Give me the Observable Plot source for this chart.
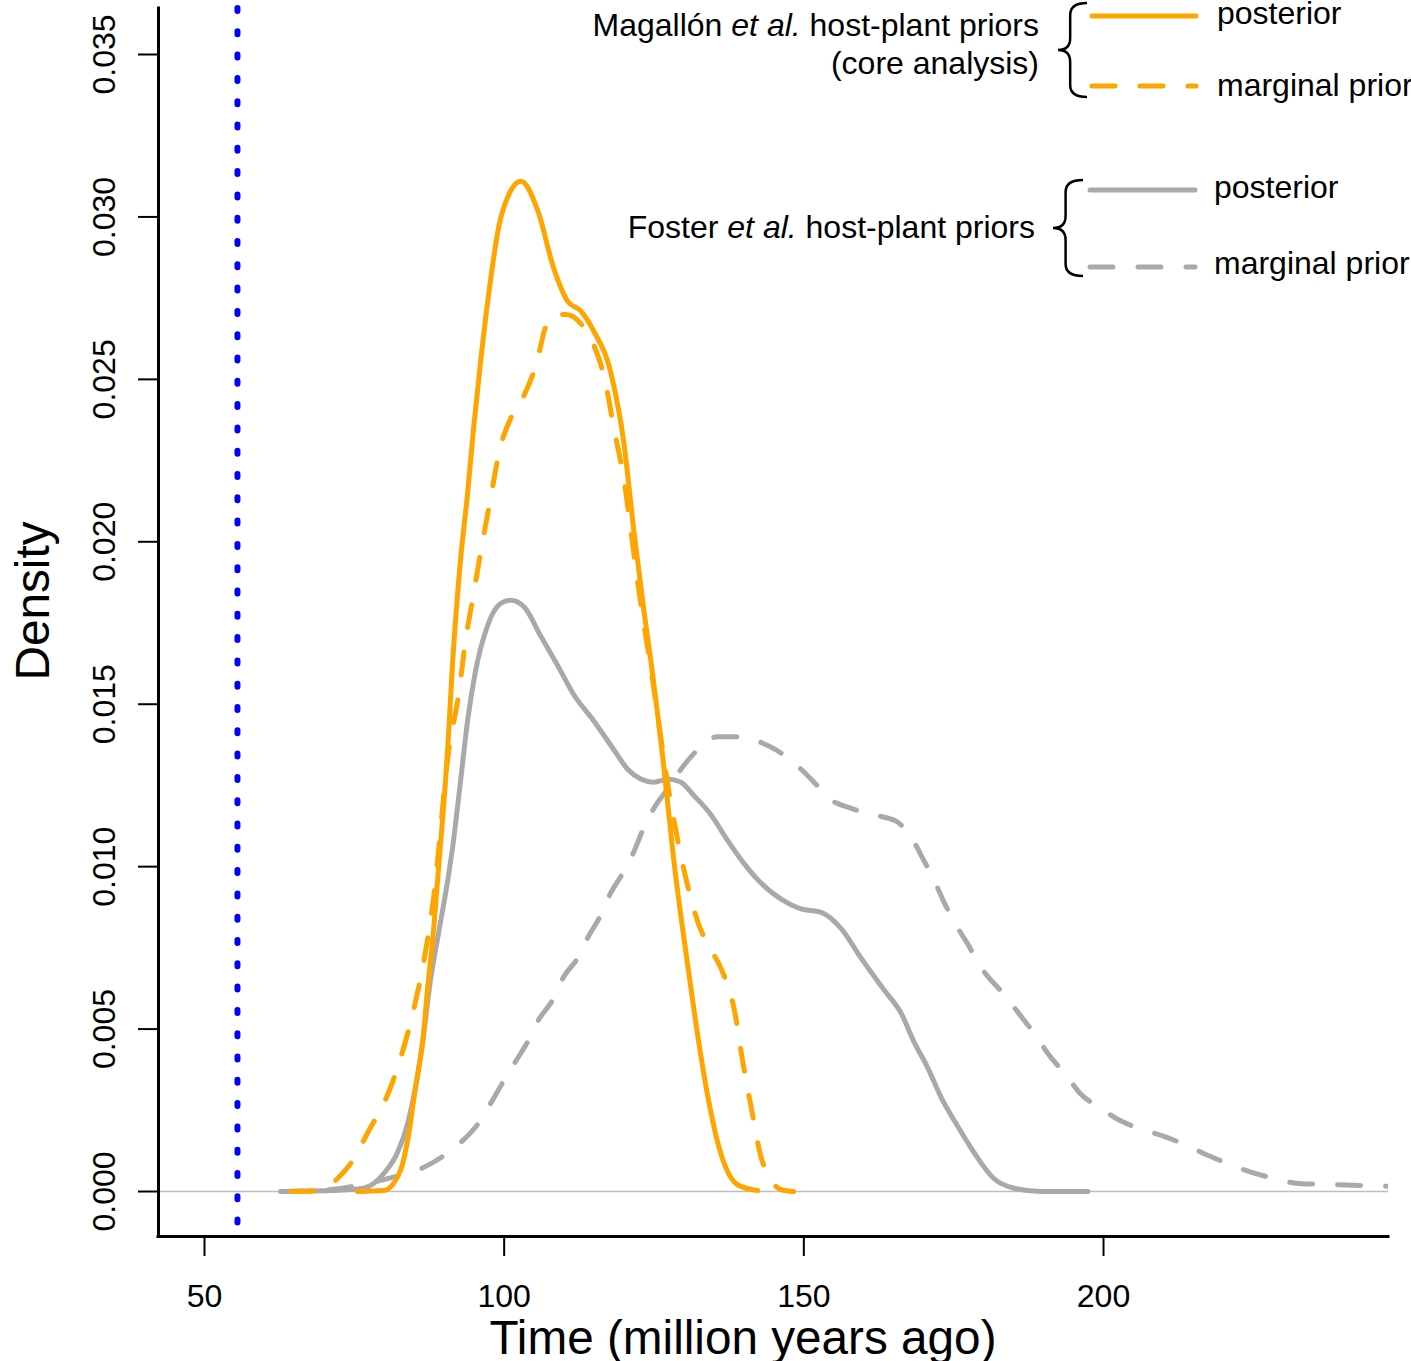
<!DOCTYPE html>
<html>
<head>
<meta charset="utf-8">
<script src="https://cdn.jsdelivr.net/npm/d3@7"></script>
<script src="https://cdn.jsdelivr.net/npm/@observablehq/plot@0.6"></script>
<style>
  html, body { margin: 0; padding: 0; background: #ffffff; }
  #chart svg { display: block; }
</style>
</head>
<body>
<div id="chart"></div>
<script>
// ---------------- data ----------------
// Magallón et al. host-plant priors (core analysis): posterior
const magallonPosteriorTime = [75.5, 79.9, 82.7, 84.1, 85.2, 86.4, 87.2, 88.2, 88.9, 90.6,
  91.4, 92.7, 93.9, 94.9, 96.1, 97.4, 99.1, 100.8, 102.8, 105.6,
  108.3, 110.6, 112.8, 114.9, 117.8, 120.0, 121.6, 123.3, 124.5, 126.5,
  128.3, 130.6, 132.3, 134.0, 136.1, 139.0, 142.3];
const magallonPosteriorDensity = [0, 0.00003, 0.00065, 0.0018, 0.0032, 0.0046, 0.0062, 0.0080, 0.0096, 0.0137,
  0.0163, 0.0194, 0.0215, 0.0235, 0.0256, 0.0276, 0.0297, 0.0307, 0.0311, 0.0302,
  0.0284, 0.0274, 0.0271, 0.0265, 0.0252, 0.0230, 0.0204, 0.0179, 0.0163, 0.0133,
  0.0102, 0.0070, 0.0048, 0.0029, 0.0012, 0.0002, 0.00003];

// Magallón et al.: marginal prior
const magallonPriorTime = [64.4, 68.9, 72.2, 74.9, 77.2, 80.6, 82.7, 84.9, 86.6, 88.2,
  90.7, 92.4, 93.6, 94.9, 96.2, 97.7, 99.2, 101.1, 103.3, 105.4,
  106.9, 108.6, 110.3, 113.6, 116.9, 118.4, 120.0, 121.1, 122.1, 124.8,
  127.5, 130.0, 132.5, 134.3, 136.1, 138.5, 139.8, 141.2, 142.8, 144.5,
  146.2, 148.3];
const magallonPriorDensity = [0, 0.00003, 0.0004, 0.0010, 0.0018, 0.0030, 0.0041, 0.0056, 0.0071, 0.0090,
  0.0135, 0.0153, 0.0170, 0.0184, 0.0198, 0.0213, 0.0228, 0.0238, 0.0245, 0.0255,
  0.0266, 0.0270, 0.0270, 0.0265, 0.0249, 0.0234, 0.0219, 0.0204, 0.0190, 0.0157,
  0.0123, 0.0099, 0.0082, 0.0075, 0.0069, 0.0055, 0.0040, 0.0026, 0.0011, 0.00035,
  0.00006, 0];

// Foster et al. host-plant priors: posterior
const fosterPosteriorTime = [62.7, 71.0, 76.5, 79.9, 82.2, 83.9, 85.2, 86.4, 87.7, 89.1,
  90.6, 91.4, 92.7, 93.9, 95.2, 97.2, 99.4, 101.1, 103.3, 106.1,
  108.9, 111.6, 114.9, 118.3, 120.6, 122.8, 125.0, 127.3, 129.5, 131.6,
  134.5, 137.3, 140.0, 142.3, 146.2, 149.5, 152.8, 156.2, 159.5, 163.4,
  166.2, 168.4, 170.7, 172.9, 175.7, 178.4, 181.7, 185.1, 189.6, 197.4];
const fosterPosteriorDensity = [0, 0.00003, 0.0001, 0.00055, 0.0012, 0.0021, 0.0032, 0.0046, 0.0065, 0.0080,
  0.0096, 0.0106, 0.0126, 0.0145, 0.0160, 0.0174, 0.0181, 0.0182, 0.0180, 0.0171,
  0.0162, 0.0153, 0.0145, 0.0136, 0.0130, 0.0127, 0.0126, 0.0127, 0.0126, 0.0122,
  0.0116, 0.0108, 0.0101, 0.0096, 0.0090, 0.0087, 0.0086, 0.0081, 0.0072, 0.0062,
  0.0055, 0.0046, 0.0038, 0.0029, 0.0020, 0.0012, 0.0004, 0.0001, 0, 0];

// Foster et al.: marginal prior
const fosterPriorTime = [62.7, 71.0, 77.2, 82.7, 86.1, 89.9, 92.7, 95.7, 97.7, 99.9,
  101.9, 103.9, 105.8, 108.1, 109.9, 112.3, 113.9, 116.1, 117.8, 119.8,
  121.5, 123.3, 125.0, 127.3, 129.5, 132.3, 135.6, 139.5, 141.7, 145.3,
  148.3, 151.7, 154.2, 157.8, 161.5, 165.4, 167.9, 170.0, 171.7, 173.4,
  175.4, 177.4, 179.2, 183.7, 186.2, 188.7, 190.9, 193.7, 196.2, 199.2,
  202.6, 206.6, 210.1, 214.1, 217.6, 224.6, 228.5, 232.5, 240.5, 249.7];
const fosterPriorDensity = [0, 0.00006, 0.00025, 0.0005, 0.0007, 0.0011, 0.0015, 0.0021, 0.0027, 0.0034,
  0.0040, 0.0046, 0.0053, 0.0059, 0.0066, 0.0072, 0.0078, 0.0085, 0.0092, 0.0098,
  0.0104, 0.0112, 0.0118, 0.0124, 0.0130, 0.0136, 0.0140, 0.0140, 0.0139, 0.0136,
  0.0132, 0.0126, 0.0121, 0.0118, 0.0116, 0.0114, 0.0109, 0.0102, 0.0096, 0.0089,
  0.0082, 0.0076, 0.0070, 0.0060, 0.0054, 0.0048, 0.0042, 0.0036, 0.0030, 0.0026,
  0.0022, 0.0019, 0.0017, 0.0014, 0.0011, 0.0006, 0.0004, 0.00025, 0.0002, 0.00015];

// reference line (dotted, blue)
const referenceTimes = [55.5];

// axes
const xTicks = [50, 100, 150, 200];
const yTicks = [0, 0.005, 0.010, 0.015, 0.020, 0.025, 0.030, 0.035];
const xDomain = [42.325, 247.55];
const yDomain = [-0.001385, 0.036416];
const xTitle = "Time (million years ago)";
const yTitle = "Density";

// legend
const groupNames = ["Magallón", "Foster"];
const groupSuffix = " host-plant priors";
const groupSecondLine = ["(core analysis)", ""];
const seriesLabels = ["posterior", "marginal prior"];

// ---------------- styles ----------------
const FONT = "'Liberation Sans', Arial, Helvetica, sans-serif";
const ORANGE = "#FFA500";
const GREY = "#A9A9A9";
const DASH = "23,25";
const LW = 5;
const FS = 32;

const rows = (ts, ds) => ts.map((t, i) => ({t, d: ds[i]}));

const lineOpts = (color, dashed) => ({
  x: "t", y: "d", stroke: color, strokeWidth: LW,
  strokeDasharray: dashed ? DASH : null,
  strokeLinecap: "round", strokeLinejoin: "round",
  curve: "monotone-x", clip: true
});

const plot = Plot.plot({
  width: 1411,
  height: 1361,
  marginLeft: 158,
  marginRight: 23,
  marginTop: 8,
  marginBottom: 125,
  style: {fontFamily: FONT, fontSize: FS + "px", background: "#ffffff", color: "#000", overflow: "visible"},
  x: {domain: xDomain, label: null},
  y: {domain: yDomain, label: null},
  marks: [
    Plot.ruleY([0], {stroke: "#BEBEBE", strokeWidth: 1.5}),
    Plot.ruleX(referenceTimes, {stroke: "#0000FF", strokeWidth: 6, strokeDasharray: "3,20.3", strokeLinecap: "round"}),
    Plot.line(rows(fosterPriorTime, fosterPriorDensity), lineOpts(GREY, true)),
    Plot.line(rows(fosterPosteriorTime, fosterPosteriorDensity), lineOpts(GREY, false)),
    Plot.line(rows(magallonPosteriorTime, magallonPosteriorDensity), lineOpts(ORANGE, false)),
    Plot.line(rows(magallonPriorTime, magallonPriorDensity), lineOpts(ORANGE, true)),
    Plot.ruleX([xDomain[0]], {stroke: "#000", strokeWidth: 3, strokeLinecap: "square"}),
    Plot.ruleY([yDomain[0]], {stroke: "#000", strokeWidth: 3, strokeLinecap: "square"}),
    Plot.axisX({ticks: xTicks, tickSize: 20, tickPadding: 28, fontSize: FS, strokeWidth: 2, label: null}),
    Plot.axisY({ticks: yTicks, tickFormat: d3.format(".3f"), tickSize: 20, tickPadding: 24, tickRotate: -90,
      fontSize: FS, strokeWidth: 2, label: null})
  ]
});

document.getElementById("chart").appendChild(plot);

// ---------------- annotations: axis titles and bracketed legend ----------------
const svg = d3.select(plot);
const ann = svg.append("g").attr("font-family", FONT).attr("fill", "#000");

ann.append("text").attr("x", 743).attr("y", 1354).attr("text-anchor", "middle")
  .attr("font-size", 47.7).text(xTitle);
ann.append("text").attr("transform", "translate(49,601) rotate(-90)").attr("text-anchor", "middle")
  .attr("font-size", 47.7).text(yTitle);

function brace(g, xTip, xEnd, yTop, yBot) {
  const mid = (yTop + yBot) / 2;
  const xv = xTip + (xEnd - xTip) * 0.42;
  const r = 12;
  const p = `M${xEnd},${yTop} Q${xv},${yTop} ${xv},${yTop + r} L${xv},${mid - r} Q${xv},${mid} ${xTip},${mid}` +
            ` Q${xv},${mid} ${xv},${mid + r} L${xv},${yBot - r} Q${xv},${yBot} ${xEnd},${yBot}`;
  g.append("path").attr("d", p).attr("fill", "none").attr("stroke", "#000").attr("stroke-width", 2.5);
}

function groupTitle(g, x, y, name) {
  const t = g.append("text").attr("x", x).attr("y", y).attr("text-anchor", "end").attr("font-size", FS);
  t.append("tspan").text(name + " ");
  t.append("tspan").attr("font-style", "italic").text("et al.");
  t.append("tspan").text(groupSuffix);
}

function legendLine(g, x1, x2, y, color, dashed) {
  g.append("line").attr("x1", x1).attr("x2", x2).attr("y1", y).attr("y2", y)
    .attr("stroke", color).attr("stroke-width", LW).attr("stroke-linecap", "round")
    .attr("stroke-dasharray", dashed ? DASH : null);
}

function label(g, x, y, s) {
  g.append("text").attr("x", x).attr("y", y).attr("text-anchor", "start").attr("font-size", FS).text(s);
}

// Magallón group
groupTitle(ann, 1039, 36, groupNames[0]);
ann.append("text").attr("x", 1039).attr("y", 74).attr("text-anchor", "end").attr("font-size", FS).text(groupSecondLine[0]);
brace(ann, 1058, 1087, 3, 97);
legendLine(ann, 1092, 1196, 16, ORANGE, false);
legendLine(ann, 1092, 1196, 86, ORANGE, true);
label(ann, 1217, 24, seriesLabels[0]);
label(ann, 1217, 96, seriesLabels[1]);

// Foster group
groupTitle(ann, 1035, 238, groupNames[1]);
brace(ann, 1053, 1083, 180, 276);
legendLine(ann, 1090, 1195, 190, GREY, false);
legendLine(ann, 1090, 1195, 267, GREY, true);
label(ann, 1214, 198, seriesLabels[0]);
label(ann, 1214, 274, seriesLabels[1]);
</script>
</body>
</html>
